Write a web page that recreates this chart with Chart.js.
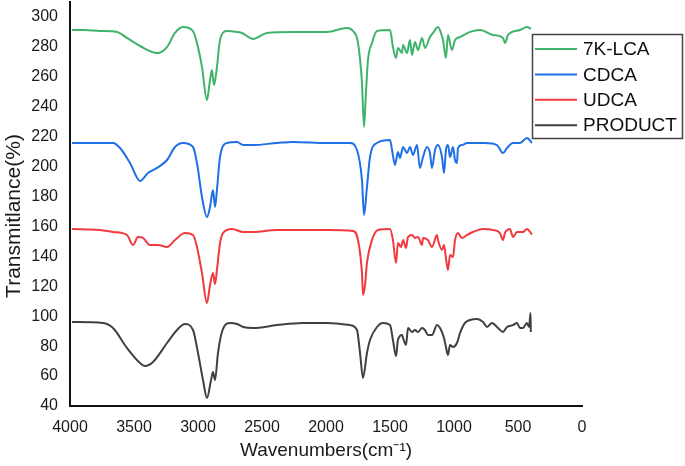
<!DOCTYPE html>
<html>
<head>
<meta charset="utf-8">
<script src="https://cdn.jsdelivr.net/npm/chart.js@4.4.1/dist/chart.umd.min.js"></script>
<style>
  html, body { margin: 0; padding: 0; background: #fff; }
  #wrap { width: 685px; height: 466px; position: relative; }
</style>
</head>
<body>
<div id="wrap"><canvas id="c" width="685" height="466"></canvas></div>
<script>
// ---- data ----
const seriesLabels = ['7K-LCA', 'CDCA', 'UDCA', 'PRODUCT'];
const xTicks = [4000, 3500, 3000, 2500, 2000, 1500, 1000, 500, 0];
const yTicks = [40, 60, 80, 100, 120, 140, 160, 180, 200, 220, 240, 260, 280, 300];
const xTitle = 'Wavenumbers(cm⁻¹)';
const yTitle = 'Transmitlance(%)';

const wnLCA = [3984,3883,3766,3633,3555,3453,3320,3242,3180,3117,3039,3008,2969,2930,2906,2891,2875,2852,2828,2773,2695,2656,2570,2461,2258,1992,1836,1789,1750,1719,1703,1688,1672,1641,1602,1500,1477,1453,1438,1406,1398,1367,1344,1328,1305,1281,1250,1227,1188,1164,1125,1102,1086,1063,1047,1016,992,953,875,797,695,617,602,578,484,430,398];
const tLCA = [291.3,291.3,290.6,290.0,286.0,280.6,275.9,279.9,289.3,293.3,290.6,282.6,266.6,244.5,257.9,264.6,254.5,266.6,284.6,290.6,290.0,289.3,285.3,289.3,290.0,290.0,292.6,290.6,282.6,255.9,226.5,249.2,271.3,282.6,290.6,291.3,279.9,272.6,279.3,275.9,281.3,275.9,284.6,274.6,283.3,277.9,286.0,279.3,286.6,289.3,293.3,289.3,284.6,272.6,288.0,277.9,284.6,286.6,290.0,291.3,288.0,286.0,282.6,288.0,291.3,293.3,292.0];

const wnCDCA = [3984,3664,3609,3531,3453,3391,3320,3242,3180,3117,3039,3008,2969,2930,2906,2883,2867,2852,2828,2773,2695,2648,2570,2383,2258,1992,1813,1758,1719,1703,1680,1656,1602,1500,1484,1461,1438,1422,1398,1367,1344,1320,1289,1266,1242,1211,1188,1172,1148,1125,1094,1078,1063,1047,1031,1008,992,977,969,938,898,820,758,664,617,586,539,484,430,391];
const tCDCA = [215.8,215.8,212.4,202.4,190.4,195.7,199.1,204.4,213.1,215.8,213.1,202.4,179.7,166.3,173.0,184.4,173.0,184.4,206.4,215.8,216.5,214.4,214.4,215.8,216.5,215.8,215.8,211.1,191.0,167.7,186.4,206.4,215.8,217.8,211.1,201.1,209.8,205.8,213.1,209.1,213.1,207.8,214.4,199.1,206.4,213.1,209.1,199.1,211.1,214.4,206.4,195.7,211.1,214.4,206.4,213.1,204.4,202.4,212.4,214.4,215.8,215.8,215.8,214.4,209.1,212.4,215.8,215.8,219.1,215.8];

const wnUDCA = [3984,3766,3664,3555,3508,3469,3430,3375,3313,3242,3180,3102,3039,3008,2969,2930,2906,2883,2867,2852,2828,2805,2734,2648,2570,2383,1992,1789,1750,1719,1711,1695,1680,1641,1594,1500,1477,1453,1438,1414,1398,1375,1359,1328,1305,1281,1250,1242,1203,1172,1133,1125,1094,1078,1063,1047,1031,1008,992,969,938,898,852,773,695,641,617,602,563,539,508,461,430,391];
const tUDCA = [158.3,157.6,156.3,154.3,147.6,152.9,152.3,147.6,147.6,146.3,150.9,155.6,154.3,146.3,128.9,108.8,120.9,128.9,121.5,130.9,148.9,155.6,158.3,156.3,156.3,157.6,157.6,157.0,150.9,128.9,114.2,120.9,135.6,150.9,157.6,158.3,150.9,135.6,148.9,146.3,150.9,145.6,153.0,154.3,152.3,153.0,147.6,152.3,150.9,146.3,154.3,150.9,144.3,147.6,138.9,130.9,140.9,139.6,150.9,155.6,152.3,154.3,156.3,158.3,157.6,155.6,150.9,155.6,158.3,153.0,156.3,156.3,158.3,154.6];

const wnPROD = [3984,3742,3664,3555,3453,3414,3352,3242,3164,3102,3039,3000,2961,2930,2898,2883,2867,2844,2813,2750,2695,2648,2570,2383,2180,1992,1813,1758,1734,1711,1680,1656,1602,1555,1500,1477,1453,1438,1406,1398,1375,1359,1328,1305,1281,1250,1227,1203,1172,1133,1109,1078,1063,1047,1031,1008,977,953,914,875,820,773,742,703,656,617,586,539,508,484,461,430,414,402,400];
const tPROD = [96.1,95.5,92.1,78.8,68.7,66.7,69.4,82.1,90.8,94.8,90.8,75.4,57.4,45.3,57.4,62.7,57.4,75.4,89.5,95.5,94.8,92.8,92.1,94.1,95.5,95.5,94.1,90.8,75.4,58.7,75.4,84.1,92.8,95.5,94.1,84.1,73.4,84.1,87.4,85.4,80.8,92.1,89.5,90.8,89.5,92.1,90.8,87.4,87.4,94.1,92.1,85.4,79.4,74.1,80.8,79.4,82.1,88.8,95.5,97.5,98.1,96.1,92.8,95.5,92.1,89.5,92.8,94.1,95.5,92.1,92.1,95.5,92.8,102.1,89.5];

// ---- styles ----
const FONT = '"Liberation Sans", Arial, sans-serif';
const colors = ['#3fb36c', '#1f6fe5', '#f03a3e', '#404040'];
const wnSets = [wnLCA, wnCDCA, wnUDCA, wnPROD];
const tSets = [tLCA, tCDCA, tUDCA, tPROD];

const datasets = seriesLabels.map((lab, i) => ({
  label: lab,
  data: wnSets[i].map((w, k) => ({ x: w, y: tSets[i][k] })),
  borderColor: colors[i],
  backgroundColor: colors[i],
  borderWidth: 2,
  pointRadius: 0,
  cubicInterpolationMode: 'monotone',
  fill: false
}));

const boxLegend = {
  id: 'boxLegend',
  afterDraw(chart) {
    const ctx = chart.ctx;
    ctx.save();
    // y axis title (drawn here so it can sit where the original has it)
    ctx.fillStyle = '#1a1a1a';
    ctx.font = '21px ' + FONT;
    ctx.textAlign = 'center';
    ctx.textBaseline = 'middle';
    ctx.translate(14, 216);
    ctx.rotate(-Math.PI / 2);
    ctx.fillText(yTitle, 0, 0);
    ctx.setTransform(1, 0, 0, 1, 0, 0);

    const bx = 532.5, by = 34.5, bw = 150, bh = 104;
    ctx.fillStyle = '#fff';
    ctx.fillRect(bx, by, bw, bh);
    ctx.strokeStyle = '#444';
    ctx.lineWidth = 1.5;
    ctx.strokeRect(bx, by, bw, bh);
    ctx.font = '19px ' + FONT;
    ctx.textBaseline = 'middle';
    ctx.textAlign = 'left';
    chart.data.datasets.forEach((ds, i) => {
      const y = 49 + i * 25.4;
      ctx.strokeStyle = ds.borderColor;
      ctx.lineWidth = 2;
      ctx.beginPath();
      ctx.moveTo(535, y);
      ctx.lineTo(577, y);
      ctx.stroke();
      ctx.fillStyle = '#111';
      ctx.fillText(ds.label, 583, y + 1);
    });
    ctx.restore();
  }
};

new Chart(document.getElementById('c'), {
  type: 'line',
  data: { datasets },
  options: {
    responsive: false,
    animation: false,
    layout: { padding: { left: 0, right: 103, top: 2, bottom: 0 } },
    plugins: { legend: { display: false }, tooltip: { enabled: false } },
    scales: {
      x: {
        type: 'linear',
        reverse: true,
        min: 0,
        max: 4000,
        afterBuildTicks: s => { s.ticks = xTicks.map(v => ({ value: v })); },
        afterFit: s => { s.height = 60; },
        grid: { display: false, drawTicks: false },
        border: { display: true, color: '#111', width: 2 },
        ticks: { color: '#1a1a1a', font: { family: FONT, size: 16 }, padding: 12, maxRotation: 0, autoSkip: false, callback: v => String(v) },
        title: { display: true, text: xTitle, color: '#1a1a1a', font: { family: FONT, size: 19 }, padding: { top: 0, bottom: 4 } }
      },
      y: {
        type: 'linear',
        min: 40,
        max: 310,
        afterBuildTicks: s => { s.ticks = yTicks.map(v => ({ value: v })); },
        afterFit: s => { s.width = 70; s.paddingTop = 0; s.paddingBottom = 0; },
        grid: { display: false, drawTicks: false },
        border: { display: true, color: '#111', width: 2 },
        ticks: { color: '#1a1a1a', font: { family: FONT, size: 16 }, padding: 12, autoSkip: false, callback: v => String(v) },
        title: { display: false }
      }
    }
  },
  plugins: [boxLegend]
});
</script>
</body>
</html>
